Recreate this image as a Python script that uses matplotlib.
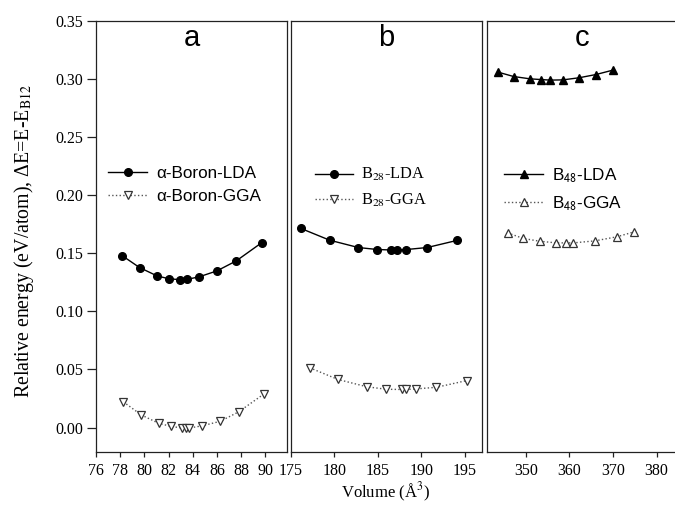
import matplotlib
matplotlib.use("Agg")
import matplotlib.pyplot as plt
import numpy as np

plt.rcParams["mathtext.fontset"] = "stix"
SERIF = "Liberation Serif"
SANS = "Liberation Sans"

# Panel a: alpha-boron
a_lda_v = [78.15, 79.6, 81.05, 82.05, 82.93, 83.54, 84.5, 86.0, 87.6, 89.7]
a_lda_e = [0.148, 0.1377, 0.1305, 0.128, 0.1273, 0.1276, 0.1296, 0.1348, 0.1434, 0.159]
a_gga_v = [78.26, 79.75, 81.19, 82.19, 83.1, 83.45, 83.73, 84.75, 86.27, 87.79, 89.9]
a_gga_e = [0.0222, 0.0109, 0.0037, 0.0011, -0.0003, -0.0006, -0.0003, 0.0015, 0.0054, 0.0135, 0.029]

# Panel b: B28
b_lda_v = [176.18, 179.48, 182.77, 184.95, 186.56, 187.18, 188.29, 190.67, 194.08]
b_lda_e = [0.1713, 0.1612, 0.1549, 0.1532, 0.1528, 0.1528, 0.1532, 0.1549, 0.161]
b_gga_v = [177.18, 180.44, 183.77, 185.99, 187.83, 188.22, 189.37, 191.74, 195.23]
b_gga_e = [0.0515, 0.0414, 0.0351, 0.033, 0.0328, 0.0328, 0.0333, 0.0347, 0.0405]

# Panel c: B48
c_lda_v = [343.57, 347.17, 350.92, 353.37, 355.58, 358.49, 362.17, 366.07, 369.97]
c_lda_e = [0.3058, 0.302, 0.3, 0.2994, 0.2989, 0.2991, 0.3009, 0.3037, 0.3075]
c_gga_v = [345.8, 349.4, 353.2, 356.96, 359.18, 360.86, 365.77, 370.82, 374.86]
c_gga_e = [0.1675, 0.1627, 0.1603, 0.1589, 0.1589, 0.1589, 0.1606, 0.1641, 0.1684]

panel_letters = ["a", "b", "c"]
lda_labels = [r"α-Boron-LDA", r"B$_{28}$-LDA", r"B$_{\mathsf{48}}$-LDA"]
gga_labels = [r"α-Boron-GGA", r"B$_{28}$-GGA", r"B$_{\mathsf{48}}$-GGA"]
y_ticks = [0.00, 0.05, 0.10, 0.15, 0.20, 0.25, 0.30, 0.35]
x_ticks = [list(range(76, 91, 2)), list(range(175, 196, 5)), list(range(350, 381, 10))]
x_limits = [(76, 91.8), (175, 197.0), (341, 384.6)]

W, H = 675, 508
fig = plt.figure(figsize=(W / 100, H / 100), dpi=100)

boxes = [(96, 287), (290.7, 482.3), (486.7, 676.7)]
top_px, bot_px = 20.7, 451.7
axes = []
for (l, r) in boxes:
    ax = fig.add_axes([l / W, (H - bot_px) / H, (r - l) / W, (bot_px - top_px) / H])
    axes.append(ax)

data = [
    (a_lda_v, a_lda_e, a_gga_v, a_gga_e, "o", "v"),
    (b_lda_v, b_lda_e, b_gga_v, b_gga_e, "o", "v"),
    (c_lda_v, c_lda_e, c_gga_v, c_gga_e, "^", "^"),
]
legend_fonts = [(SANS, 12.3), (SERIF, 11.8), (SANS, 12.3)]
legend_anchor = [(0.063, 0.663), (0.127, 0.662), (0.092, 0.662)]
legend_spacing = [0.45, 0.5, 0.55]

edge = "#222222"
for i, ax in enumerate(axes):
    lv, le, gv, ge, lm, gm = data[i]
    ax.plot(lv, le, "-", color="black", lw=1.0, marker=lm, ms=5.5,
            mfc="black", mec="black", label=lda_labels[i])
    ax.plot(gv, ge, ":", color="#555555", lw=1.0, marker=gm, ms=5.2,
            mfc="white", mec="#333333", mew=0.9, label=gga_labels[i])
    ax.set_xlim(*x_limits[i])
    ax.set_ylim(-0.0207, 0.35)
    ax.set_xticks(x_ticks[i])
    ax.set_xticklabels([str(t) for t in x_ticks[i]], fontfamily=SERIF, fontsize=11.5)
    for s in ax.spines.values():
        s.set_color(edge)
        s.set_linewidth(0.9)
    ax.tick_params(axis="x", direction="out", length=3.5, width=0.9, color=edge, pad=4.5)
    if i == 0:
        ax.set_yticks(y_ticks)
        ax.set_yticklabels([f"{t:.2f}" for t in y_ticks], fontfamily=SERIF, fontsize=11.5)
        ax.tick_params(axis="y", direction="out", length=6.5, width=0.9, color=edge, pad=3)
    else:
        ax.set_yticks([])
    ax.text(0.5, 0.941, panel_letters[i], transform=ax.transAxes, ha="center",
            va="baseline", fontfamily=SANS, fontsize=21)
    fam, size = legend_fonts[i]
    ax.legend(loc="upper left", bbox_to_anchor=legend_anchor[i], frameon=False,
              borderpad=0, borderaxespad=0, handlelength=2.3, handletextpad=0.5,
              labelspacing=legend_spacing[i], numpoints=1,
              prop={"family": fam, "size": size})

fig.text(24 / W, 1 - 241 / H, r"Relative energy (eV/atom), ΔE=E-E$_{\mathrm{B12}}$",
         rotation=90, ha="center", va="center", fontfamily=SERIF, fontsize=14.3)
fig.text(386 / W, 1 - 492 / H, r"Volume (Å$^3$)", ha="center", va="center",
         fontfamily=SERIF, fontsize=12)

fig.savefig("out.png", dpi=100)
